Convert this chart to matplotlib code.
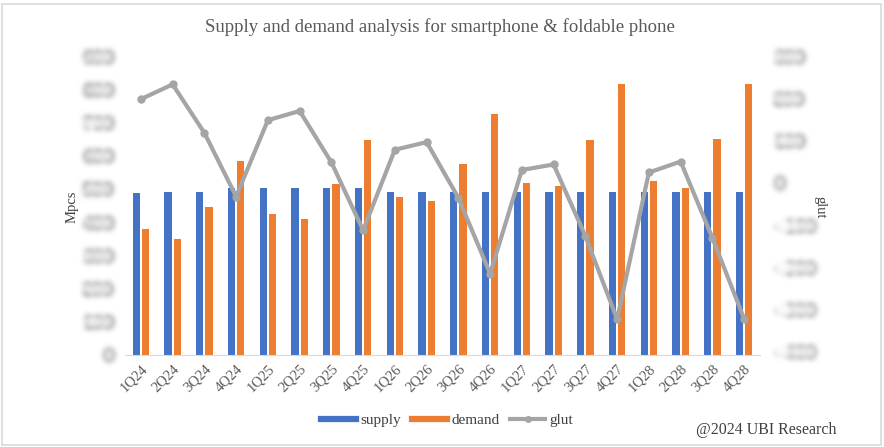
import numpy as np
import matplotlib
matplotlib.use("Agg")
import matplotlib.pyplot as plt
from matplotlib.lines import Line2D
from matplotlib.patches import Rectangle

quarters = ["1Q24", "2Q24", "3Q24", "4Q24", "1Q25", "2Q25", "3Q25", "4Q25",
            "1Q26", "2Q26", "3Q26", "4Q26", "1Q27", "2Q27", "3Q27", "4Q27",
            "1Q28", "2Q28", "3Q28", "4Q28"]
supply = [490, 493, 493, 505, 505, 505, 505, 505, 493, 493,
          493, 493, 493, 493, 493, 493, 493, 493, 493, 493]
demand = [381, 351, 448, 587, 427, 410, 516, 650, 478, 465,
          578, 729, 519, 511, 650, 818, 524, 504, 653, 818]
glut = [200, 235, 120, -31, 150, 172, 50, -111, 80, 98,
        -34, -214, 32, 45, -125, -322, 26, 52, -129, -321]
left_ticks = [0, 100, 200, 300, 400, 500, 600, 700, 800, 900]
right_ticks = [-400, -300, -200, -100, 0, 100, 200, 300]

BLUE = "#4472C4"
ORANGE = "#ED7D31"
GRAY = "#A5A5A5"
SERIF = "Liberation Serif"


def blur_filter(sigma):
    def f(im, dpi):
        pad = int(3 * sigma) + 1
        padded = np.pad(im, ((pad, pad), (pad, pad), (0, 0)))
        k = np.arange(-pad, pad + 1)
        g = np.exp(-0.5 * (k / sigma) ** 2)
        g /= g.sum()
        out = np.apply_along_axis(lambda v: np.convolve(v, g, mode="same"), 0, padded)
        out = np.apply_along_axis(lambda v: np.convolve(v, g, mode="same"), 1, out)
        return out, -pad, -pad
    return f


W, H = 884, 447
fig = plt.figure(figsize=(W / 100, H / 100), dpi=100)
fig.patch.set_facecolor("white")
fig.add_artist(Rectangle((2 / W, 2 / H), 1 - 5 / W, 1 - 6 / H, transform=fig.transFigure,
                         fill=False, edgecolor="#d9d9d9", linewidth=1.2))

ax = fig.add_axes([125 / W, 1 - 355 / H, (760 - 125) / W, (355 - 57) / H])
x = np.arange(len(quarters))
bw = 0.23
off = 0.145
ax.bar(x - off, supply, bw, color=BLUE, label="supply", zorder=2)
ax.bar(x + off, demand, bw, color=ORANGE, label="demand", zorder=2)
ax.set_xlim(-0.5, len(quarters) - 0.5)
ax.set_ylim(left_ticks[0], left_ticks[-1])
ax.set_yticks(left_ticks)
ax.set_xticks(x)
ax.set_xticklabels(quarters, rotation=45, ha="right", rotation_mode="anchor",
                   fontfamily=SERIF, fontsize=10.5, color="#595959")
for s in ["top", "right", "left"]:
    ax.spines[s].set_visible(False)
ax.spines["bottom"].set_color("#d9d9d9")
ax.tick_params(axis="x", length=0, pad=5)
ax.tick_params(axis="y", length=0, pad=8, labelsize=10.5, labelcolor="#c4c4c4")
for t in ax.get_yticklabels():
    t.set_agg_filter(blur_filter(3))
    t.set_fontweight("bold")

ax2 = ax.twinx()
ax2.set_ylim(-400 - 3 * (700 / 300), 300 - 5 * (700 / 300))
ax2.set_yticks(right_ticks)
ax2.plot(x, glut, color=GRAY, linewidth=3, marker="o", markersize=5, zorder=3)
for s in ["top", "right", "left", "bottom"]:
    ax2.spines[s].set_visible(False)
ax2.tick_params(axis="y", length=0, pad=10, labelsize=10.5, labelcolor="#cccccc")
for t in ax2.get_yticklabels():
    t.set_agg_filter(blur_filter(3))
    t.set_fontweight("bold")

fig.text(440 / W, 1 - 27 / H, "Supply and demand analysis for smartphone & foldable phone",
         ha="center", va="center", fontfamily=SERIF, fontsize=13.5, color="#595959")
fig.text(72 / W, 1 - 207 / H, "Mpcs", rotation=90, ha="center", va="center",
         fontfamily=SERIF, fontsize=10.5, color="#404040")
fig.text(820 / W, 1 - 207 / H, "glut", rotation=-90, ha="center", va="center",
         fontfamily=SERIF, fontsize=10.5, color="#404040")

handles = [Line2D([0], [0], color=BLUE, lw=4.5),
           Line2D([0], [0], color=ORANGE, lw=4.5),
           Line2D([0], [0], color=GRAY, lw=3, marker="o", markersize=4)]
fig.legend(handles, ["supply", "demand", "glut"], loc="center", ncol=3,
           bbox_to_anchor=(447 / W, 1 - 420 / H), frameon=False,
           prop={"family": SERIF, "size": 11}, labelcolor="#404040",
           handlelength=2.3, columnspacing=0.7, handletextpad=0.3)

fig.text(766 / W, 1 - 430 / H, "@2024 UBI Research", ha="center", va="center",
         fontfamily=SERIF, fontsize=11.5, color="#404040")

fig.savefig("out.png", dpi=100, facecolor="white")
